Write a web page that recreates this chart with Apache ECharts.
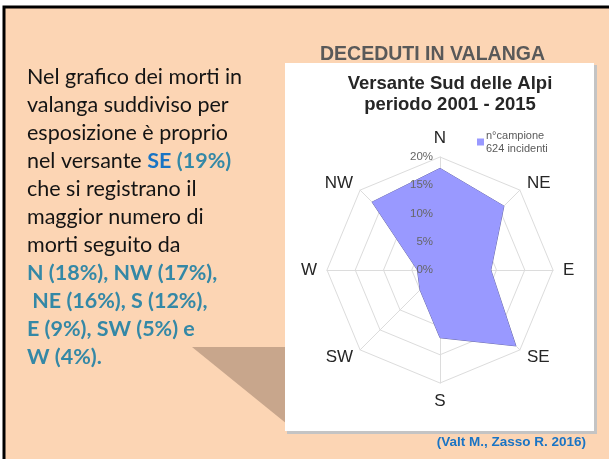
<!DOCTYPE html>
<html><head><meta charset="utf-8">
<script src="https://cdn.jsdelivr.net/npm/echarts@6/dist/echarts.min.js"></script>
<style>html,body{margin:0;padding:0;background:#fff}#c{width:609px;height:459px}</style>
</head><body><div id="c"></div>
<script>
const directions = ['N','NE','E','SE','S','SW','W','NW'];
const values = [18, 16, 9, 19, 12, 5, 4, 17];
const tickValues = [0, 5, 10, 15, 20];
const seriesName = 'n°campione\n624 incidenti';
const slideTitle = 'DECEDUTI IN VALANGA';
const chartTitle = 'Versante Sud delle Alpi\nperiodo 2001 - 2015';
const source = '(Valt M., Zasso R. 2016)';

// radar indicators run counter-clockwise; reorder so directions go clockwise
const order = [0,7,6,5,4,3,2,1];
const indicators = order.map(i => ({ name: directions[i], max: 20, min: 0 }));
const radarValues = order.map(i => values[i]);

const CX = 440, CY = 270, R = 113;
const teal = '#3488A6', blue = '#1A74C4';
const bodyFont = 'Lato';
const FS = 21.5;

const chart = echarts.init(document.getElementById('c'), null, {renderer: 'canvas'});
chart.setOption({
  backgroundColor: '#ffffff',
  animation: false,
  title: [{
    text: chartTitle, left: 445, top: 68, textAlign: 'center',
    textStyle: { fontFamily: 'Liberation Sans', fontWeight: 'bold', fontSize: 18.5, color: '#262626', lineHeight: 21 }
  }],
  legend: {
    left: 472, top: 124, orient: 'vertical', icon: 'rect', itemWidth: 7, itemHeight: 7, itemGap: 2,
    textStyle: { fontFamily: 'Liberation Sans', fontSize: 11, color: '#5a5a5a', lineHeight: 13, padding: [0,0,0,-3] },
    data: [seriesName]
  },
  radar: {
    center: [CX, CY], radius: R, startAngle: 90, splitNumber: 4, shape: 'polygon',
    indicator: indicators,
    axisName: { color: '#262626', fontSize: 17, fontFamily: 'Liberation Sans' },
    nameGap: 10,
    splitLine: { lineStyle: { color: '#dcdcdc', width: 1 } },
    splitArea: { show: false },
    axisLine: { lineStyle: { color: '#dcdcdc', width: 1 } },
    axisTick: { show: false },
    axisLabel: { show: false }
  },
  polar: { center: [CX, CY], radius: R },
  angleAxis: { type: 'value', min: 0, max: 360, startAngle: 90, show: false },
  radiusAxis: {
    min: tickValues[0], max: tickValues[tickValues.length-1], interval: 5,
    axisLine: { show: false }, axisTick: { show: false }, splitLine: { show: false },
    axisLabel: { formatter: '{value}%', color: '#666666', fontSize: 11.5, fontFamily: 'Liberation Sans', margin: 7 },
    z: 10
  },
  series: [{
    type: 'radar', name: seriesName, symbol: 'none',
    lineStyle: { color: '#6a6aa8', width: 1 },
    itemStyle: { color: '#9999FF' },
    areaStyle: { color: '#9999FF', opacity: 1 },
    data: [{ value: radarValues, name: seriesName }]
  }],
  graphic: [
    { type: 'rect', z: -100, shape: { x: 4, y: 7, width: 620, height: 470 }, style: { fill: '#FCD5B4', stroke: '#000', lineWidth: 3 } },
    { type: 'polygon', z: -90, shape: { points: [[192,347],[287,347],[287,424]] }, style: { fill: '#C8A68C' } },
    { type: 'rect', z: -80, shape: { x: 287, y: 65, width: 310, height: 369 }, style: { fill: '#c4c4c4' } },
    { type: 'rect', z: -70, shape: { x: 285, y: 63, width: 309, height: 368 }, style: { fill: '#ffffff' } },
    { type: 'text', z: 5, left: 320, top: 45, style: { text: slideTitle, fill: '#595959', font: 'bold 19.5px "Liberation Sans"' } },
    { type: 'text', z: 5, right: 609-586, top: 435, style: { text: source, fill: blue, font: 'bold 13.5px "Liberation Sans"' } },
    { type: 'text', z: 5, left: 27, top: 63, style: {
        text: 'Nel grafico dei morti in\nvalanga suddiviso per\nesposizione è proprio\nnel versante {b|SE} {t|(19%)}\nche si registrano il\nmaggior numero di\nmorti seguito da\n{t|N (18%), NW (17%),}\n{t| NE (16%), S (12%),}\n{t|E (9%), SW (5%) e}\n{t|W (4%).}',
        fill: '#141414', fontFamily: bodyFont, fontSize: FS, lineHeight: 28,
        rich: {
          b: { fill: blue, fontWeight: 'bold', fontFamily: bodyFont, fontSize: FS, lineHeight: 28 },
          t: { fill: teal, fontWeight: 'bold', fontFamily: bodyFont, fontSize: FS, lineHeight: 28 }
        }
    } }
  ]
});
</script></body></html>
